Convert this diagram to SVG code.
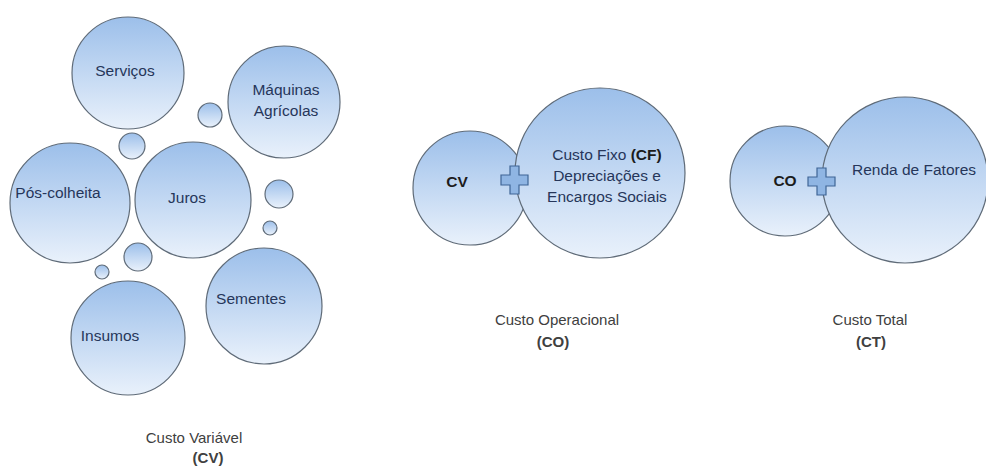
<svg xmlns="http://www.w3.org/2000/svg" width="986" height="469" viewBox="0 0 986 469">
<defs>
<linearGradient id="g" x1="0" y1="0" x2="0" y2="1">
<stop offset="0" stop-color="#9cbfea"/>
<stop offset="1" stop-color="#e9f1fb"/>
</linearGradient>
<style>
.c{fill:url(#g);stroke:#5f6b78;stroke-width:1.2}
.t{font-family:"Liberation Sans",Arial,sans-serif;font-size:15.5px;fill:#26365a;text-anchor:middle}
.b{font-weight:bold}
.k{fill:#1c1c1c}
.l{font-family:"Liberation Sans",Arial,sans-serif;font-size:15px;fill:#404040;text-anchor:middle}
.p{fill:#8fb5e3;stroke:#3f6595;stroke-width:1.2}
</style>
</defs>
<rect width="986" height="469" fill="#ffffff"/>
<g id="cv-group">
<g id="servicos"><circle class="c" cx="128" cy="73" r="56"/><text class="t" x="125" y="76">Serviços</text></g>
<g id="maquinas"><circle class="c" cx="284" cy="102" r="56"/><text class="t" x="286" y="95">Máquinas</text><text class="t" x="286" y="116">Agrícolas</text></g>
<g id="bubble1"><circle class="c" cx="210" cy="115" r="12"/></g>
<g id="bubble2"><circle class="c" cx="132" cy="146" r="13"/></g>
<g id="poscolheita"><circle class="c" cx="70" cy="203" r="60"/><text class="t" x="58" y="198">Pós-colheita</text></g>
<g id="juros"><circle class="c" cx="193" cy="200" r="58"/><text class="t" x="187" y="203">Juros</text></g>
<g id="bubble3"><circle class="c" cx="279" cy="194" r="14"/></g>
<g id="bubble4"><circle class="c" cx="270" cy="228" r="7"/></g>
<g id="bubble5"><circle class="c" cx="138" cy="257" r="14"/></g>
<g id="bubble6"><circle class="c" cx="102" cy="272" r="7"/></g>
<g id="insumos"><circle class="c" cx="128" cy="338" r="57"/><text class="t" x="110" y="341">Insumos</text></g>
<g id="sementes"><circle class="c" cx="264" cy="306" r="58"/><text class="t" x="251" y="304">Sementes</text></g>
<g id="label-cv"><text class="l" x="194" y="443">Custo Variável</text><text class="l b k" x="208" y="463">(CV)</text></g>
</g>
<g id="co-group">
<g id="cv"><circle class="c" cx="470" cy="188" r="57"/><text class="t b k" x="457" y="187">CV</text></g>
<g id="cf"><circle class="c" cx="600" cy="173" r="85"/>
<text class="t" x="607" y="160">Custo Fixo <tspan class="b k">(CF)</tspan></text>
<text class="t" x="607" y="181">Depreciações e</text>
<text class="t" x="607" y="202">Encargos Sociais</text></g>
<g id="label-co"><text class="l" x="557" y="325">Custo Operacional</text><text class="l b k" x="553" y="347">(CO)</text></g>
</g>
<g id="ct-group">
<g id="co"><circle class="c" cx="785" cy="181" r="55"/><text class="t b k" x="785" y="186">CO</text></g>
<g id="renda"><circle class="c" cx="905" cy="180" r="83"/><text class="t" x="914" y="175">Renda de Fatores</text></g>
<g id="label-ct"><text class="l" x="870" y="325">Custo Total</text><text class="l b k" x="871" y="347">(CT)</text></g>
</g>
<g id="connectors">
<path class="p" d="M510,166 h9 v9 h9 v10 h-9 v9 h-9 v-9 h-9 v-10 h9 z"/>
<path class="p" d="M817,168 h9 v9 h9 v9 h-9 v9 h-9 v-9 h-9 v-9 h9 z"/>
</g>
</svg>
